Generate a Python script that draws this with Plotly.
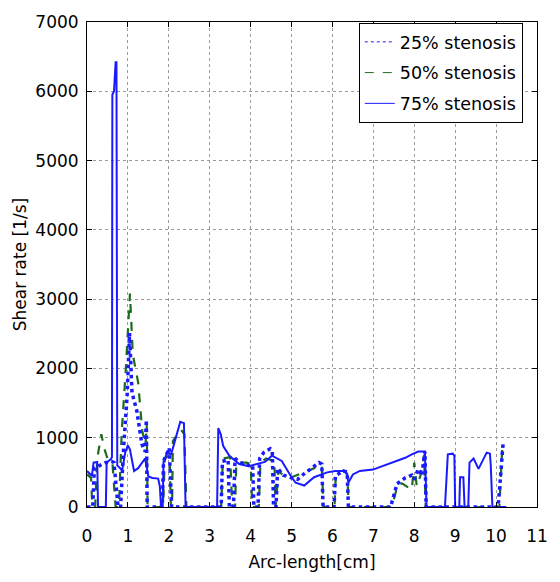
import plotly.graph_objects as go

# Shear rate along the vessel wall for three stenosis severities
x_25 = [0, 0.14, 0.18, 0.3, 0.45, 0.6, 0.66, 0.76, 0.82, 0.9, 0.98, 1.04, 1.1, 1.22, 1.34, 1.42,
        1.45, 1.47, 1.84, 1.87, 2.01, 2.07, 3.28, 3.31, 3.45, 3.48, 3.58, 3.62, 3.75, 3.95, 4.05,
        4.08, 4.18, 4.22, 4.32, 4.48, 4.53, 4.56, 4.62, 4.66, 4.8, 5.0, 5.15, 5.31, 5.4, 5.55,
        5.67, 5.74, 5.77, 6.04, 6.07, 6.27, 6.36, 6.39, 7.42, 7.58, 7.78, 7.94, 8.0, 8.1, 8.18,
        8.26, 8.29, 10.05, 10.17]
y_25 = [0, 0, 560, 600, 640, 660, 640, 0, 0, 900, 1600, 2510, 1650, 1380, 910, 800,
        1260, 0, 0, 660, 850, 0, 0, 660, 680, 0, 0, 700, 640, 600, 600,
        0, 0, 700, 785, 840, 800, 0, 0, 560, 460, 420, 400, 480, 520, 590,
        640, 620, 0, 0, 450, 520, 500, 0, 0, 335, 420, 460, 400, 550, 450,
        800, 0, 0, 910]

x_50 = [0, 0.1, 0.13, 0.2, 0.25, 0.35, 0.42, 0.5, 0.62, 0.7, 0.78, 0.85, 0.95, 1.05, 1.12, 1.25,
        1.35, 1.43, 1.46, 1.48, 1.86, 1.9, 2.02, 2.05, 2.08, 2.1, 2.29, 2.38, 2.43, 3.28, 3.32,
        3.5, 3.55, 3.62, 3.65, 3.9, 4.0, 4.04, 4.2, 4.24, 4.38, 4.5, 4.58, 4.61, 4.68, 4.8, 5.0,
        5.31, 5.55, 5.67, 5.74, 5.78, 6.05, 6.08, 6.27, 6.36, 6.4, 7.45, 7.6, 7.7, 7.94, 8.0,
        8.06, 8.15, 8.24, 8.28, 10.08, 10.15]
y_50 = [470, 420, 0, 0, 700, 1050, 850, 700, 650, 0, 0, 1100, 2000, 3080, 2200, 1800,
        1100, 900, 1200, 0, 0, 700, 750, 0, 0, 950, 1120, 1050, 0, 0, 700,
        720, 0, 0, 640, 640, 620, 0, 0, 640, 700, 680, 660, 0, 520, 460, 430,
        500, 560, 620, 600, 0, 0, 430, 520, 480, 0, 0, 330, 340, 250, 640,
        300, 450, 750, 0, 0, 850]

x_75 = [0, 0.12, 0.16, 0.25, 0.27, 0.46, 0.48, 0.58, 0.61, 0.62, 0.66, 0.70, 0.72, 0.74, 0.86,
        0.94, 1.0, 1.05, 1.15, 1.25, 1.42, 1.5, 1.6, 1.74, 1.78, 1.81, 1.85, 1.87, 1.97, 2.05,
        2.1, 2.28, 2.37, 2.41, 3.18, 3.21, 3.27, 3.33, 3.48, 3.72, 3.96, 4.19, 4.35, 4.52, 4.76,
        5.0, 5.1, 5.31, 5.55, 5.87, 6.07, 6.33, 6.39, 6.5, 6.67, 6.99, 7.3, 7.78, 7.94, 8.02,
        8.1, 8.26, 8.3, 8.75, 8.82, 8.94, 8.98, 9.0, 9.1, 9.12, 9.2, 9.23, 9.32, 9.35, 9.45,
        9.57, 9.77, 9.85, 9.87, 9.91, 10.25]
y_75 = [520, 450, 640, 650, 0, 0, 640, 690, 720, 5950, 6000, 6420, 6420, 600, 530,
        800, 890, 830, 520, 560, 700, 440, 420, 410, 300, 0, 0, 650, 800, 750,
        850, 1230, 1210, 0, 0, 1140, 1050, 880, 740, 620, 590, 620, 650, 740, 665,
        430, 350, 310, 430, 500, 520, 520, 355, 470, 520, 540, 610, 710, 760, 785,
        800, 800, 0, 0, 760, 770, 740, 0, 0, 430, 430, 0, 0, 640, 700,
        550, 785, 770, 600, 0, 0]

x_ticks = list(range(0, 12))
y_ticks = list(range(0, 8000, 1000))

names = ["25% stenosis", "50% stenosis", "75% stenosis"]
colors = ["#1a1aff", "#1d6b1d", "#1a1aff"]
dashes = ["dot", "dash", "solid"]
widths = [3.5, 2.2, 2]

fig = go.Figure()

# data curves (legend entries are drawn separately with thin lines)
fig.add_trace(go.Scatter(x=x_50, y=y_50, mode="lines", showlegend=False,
                         line=dict(color=colors[1], dash=dashes[1], width=widths[1])))
fig.add_trace(go.Scatter(x=x_25, y=y_25, mode="lines", showlegend=False,
                         line=dict(color=colors[0], dash=dashes[0], width=widths[0])))
fig.add_trace(go.Scatter(x=x_75, y=y_75, mode="lines", showlegend=False,
                         line=dict(color=colors[2], dash=dashes[2], width=widths[2])))

for i, name in enumerate(names):
    fig.add_trace(go.Scatter(x=[None], y=[None], mode="lines", name=name,
                             legendgroup=f"g{i}",
                             line=dict(color=colors[i], dash=dashes[i], width=1)))

axis_common = dict(
    showline=True, linecolor="black", linewidth=1, mirror="ticks",
    ticks="inside", ticklen=5, tickcolor="black",
    showgrid=True, gridcolor="#9a9a9a", griddash="dot", gridwidth=1,
    zeroline=False, tickfont=dict(size=17, color="black"),
)

fig.update_xaxes(range=[0, 11], tickvals=x_ticks, ticklabelstandoff=14,
                 title=dict(text="Arc-length[cm]", font=dict(size=17, color="black"), standoff=10),
                 **axis_common)
fig.update_yaxes(range=[0, 7000], tickvals=y_ticks, ticklabelstandoff=4,
                 title=dict(text="Shear rate [1/s]", font=dict(size=17, color="black"), standoff=4),
                 **axis_common)

fig.update_layout(
    width=560, height=582,
    margin=dict(l=87, r=12, t=15, b=75),
    paper_bgcolor="white", plot_bgcolor="white",
    font=dict(family="DejaVu Sans", color="black"),
    legend=dict(x=0.604, y=0.998, xanchor="left", yanchor="top",
                bgcolor="white", bordercolor="black", borderwidth=1,
                font=dict(size=17.5), itemwidth=30, tracegroupgap=5),
)

fig.write_html("out.html")
